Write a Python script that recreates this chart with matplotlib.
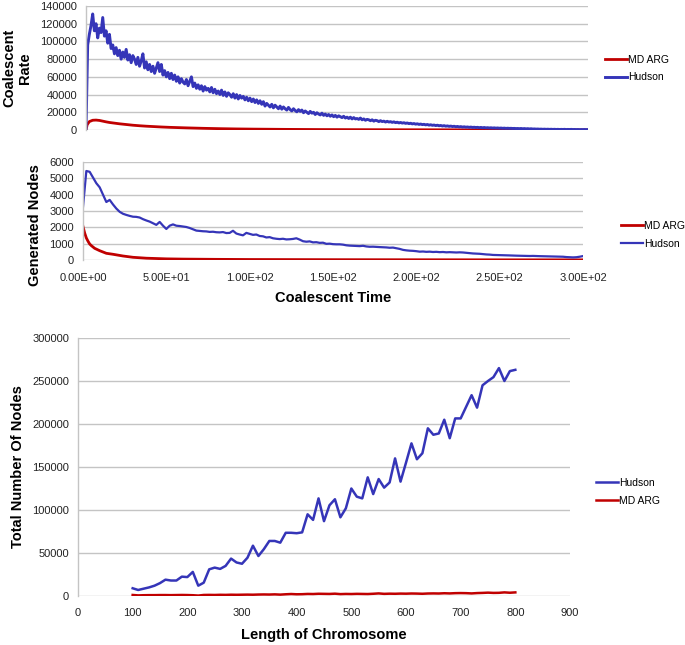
import numpy as np
import matplotlib
matplotlib.use("Agg")
import matplotlib.pyplot as plt
from matplotlib.ticker import FuncFormatter

plt.rcParams['font.family'] = ['Liberation Sans', 'DejaVu Sans']

# ---------------- data ----------------
# Panel 1: coalescent rate vs coalescent time (one value per time unit, t = 0..300)
rate_time_hudson = np.arange(0, 301, 1)
rate_hudson = [
    0, 96000, 108000, 118000, 131000, 112000, 120000, 104000, 115000, 110000,
    127000, 106000, 112000, 98000, 108000, 92000, 96000, 86000, 93000, 84000,
    90000, 80000, 88000, 82000, 91000, 79000, 85000, 76000, 84000, 80000,
    74000, 82000, 72000, 78000, 86000, 70000, 77000, 68000, 74000, 66000,
    72000, 64000, 70000, 76000, 66000, 74000, 62000, 67000, 60000, 65000,
    58000, 64000, 57000, 62000, 55000, 60000, 53000, 58000, 54000, 52000,
    57000, 50000, 55000, 60000, 49000, 53000, 47000, 51000, 46000, 50000,
    44000, 49000, 45000, 47000, 43000, 48000, 42000, 46000, 41000, 44000,
    40000, 45000, 39000, 43000, 38000, 42000, 40000, 37000, 41000, 36000,
    40000, 35000, 39000, 36000, 38000, 34000, 37000, 33000, 36000, 32000,
    35000, 31000, 34000, 30000, 33000, 29000, 32000, 27000, 30000, 28000,
    26000, 29000, 25000, 28000, 26000, 24000, 27000, 23500, 26000, 24000,
    22500, 25500, 23000, 21500, 24000, 22000, 20500, 23000, 21000, 22500,
    19500, 21500, 20000, 18500, 21000, 19000, 20000, 17500, 19500, 18000,
    17000, 19000, 16500, 18000, 16000, 17500, 15500, 17000, 15000, 16500,
    14500, 16000, 15000, 14000, 15500, 13500, 14500, 13000, 14500, 12500,
    14000, 12500, 13000, 12000, 13500, 11500, 12500, 11000, 12000, 11500,
    10500, 11500, 10000, 11000, 10500, 9500, 10500, 9500, 10000, 9000,
    9800, 9000, 9400, 8600, 9200, 8300, 8800, 8000, 8500, 7800,
    8200, 7500, 7900, 7200, 7600, 6900, 7300, 6600, 7000, 6300,
    6700, 6100, 6400, 5800, 6200, 5500, 5900, 5300, 5600, 5000,
    5400, 4800, 5100, 4500, 4900, 4300, 4600, 4100, 4400, 3900,
    4200, 3700, 4000, 3500, 3800, 3300, 3600, 3200, 3400, 3000,
    3300, 2900, 3100, 2800, 3000, 2600, 2900, 2500, 2800, 2400,
    2600, 2300, 2500, 2200, 2400, 2100, 2300, 2000, 2200, 1900,
    2100, 1800, 2000, 1800, 1900, 1700, 1800, 1600, 1700, 1500,
    1700, 1400, 1600, 1300, 1500, 1200, 1400, 1100, 1200, 1000,
    1100, 900, 1000, 800, 950, 750, 900, 700, 850, 650,
    800, 600, 750, 550, 700, 600, 750, 500, 650, 550,
    700, 500, 600, 450, 550, 400, 500, 450, 550, 400,
    500,
]
rate_time_mdarg = [0, 0.7, 2, 4, 6, 8, 10, 12, 14, 16, 20, 24, 28, 32, 36, 40, 45,
                   50, 60, 70, 80, 90, 100, 120, 140, 160, 180, 200, 230, 260, 300]
rate_mdarg = [0, 6000, 9500, 11000, 11200, 10800, 10000, 9200, 8500, 8000, 7000,
              6200, 5400, 4800, 4300, 3900, 3400, 3000, 2400, 1900, 1500, 1200,
              1000, 700, 500, 400, 300, 250, 200, 150, 100]

# Panel 2: generated nodes vs coalescent time
nodes_time_hudson = np.arange(0, 301, 2)
nodes_hudson = [
    3250, 5450, 5400, 5050, 4700, 4450, 4000, 3550, 3680, 3400,
    3150, 2950, 2830, 2760, 2700, 2650, 2640, 2600, 2500, 2420,
    2350, 2250, 2150, 2330, 2100, 1900, 2100, 2180, 2100, 2080,
    2050, 2020, 1960, 1880, 1800, 1780, 1760, 1750, 1720, 1730,
    1700, 1690, 1710, 1650, 1660, 1790, 1620, 1560, 1510, 1660,
    1600, 1540, 1560, 1470, 1450, 1380, 1400, 1330, 1300, 1280,
    1300, 1260, 1270, 1290, 1330, 1250, 1150, 1120, 1140, 1080,
    1090, 1050, 1060, 990, 1000, 970, 960, 960, 940, 900,
    880, 870, 860, 850, 870, 830, 810, 815, 800, 790,
    780, 770, 750, 760, 720, 680, 620, 590, 570, 560,
    540, 510, 520, 500, 510, 490, 500, 480, 490, 470,
    480, 470, 460, 470, 460, 440, 420, 400, 390, 380,
    360, 340, 330, 310, 305, 300, 290, 285, 280, 270,
    265, 260, 255, 250, 245, 250, 240, 235, 230, 225,
    220, 210, 205, 200, 200, 180, 170, 160, 170, 200,
    240,
]
nodes_time_mdarg = [0, 1, 2, 3, 4, 5, 7, 10, 14, 18, 24, 30, 38, 50, 60, 80, 100,
                    150, 200, 250, 300]
nodes_mdarg = [2050, 1650, 1350, 1150, 980, 880, 715, 570, 410, 350, 245, 165,
               110, 70, 55, 40, 30, 20, 15, 10, 10]

# Panel 3: total number of nodes vs length of chromosome
chrom_length = np.arange(100, 801, 10)
total_hudson = [
    9000, 7000, 8500, 10000, 12000, 15000, 19000, 18000, 18000, 22500,
    22000, 28000, 12000, 15500, 31000, 33000, 31500, 35000, 43500, 39000,
    37500, 44500, 58500, 46500, 54500, 64000, 64000, 62000, 73500, 73500,
    73000, 74000, 95000, 88500, 113500, 87000, 105500, 112500, 91500, 102000,
    125000, 115500, 113500, 138000, 118500, 136000, 126000, 132000, 160000, 133000,
    155000, 177500, 159000, 166000, 195000, 187500, 189000, 205000, 183500, 206500,
    206500, 220000, 233500, 219000, 245000, 250000, 254500, 265000, 250000, 261500,
    263000,
]
total_mdarg = [
    1200, 700, 900, 1000, 1000, 1100, 1100, 1000, 1100, 1200,
    1100, 900, 500, 1200, 1300, 1200, 1400, 1300, 1500, 1400,
    1500, 1600, 1500, 1700, 1800, 1700, 1900, 1600, 2000, 2300,
    2000, 2100, 2400, 2300, 2600, 2500, 2400, 2700, 2200, 2400,
    2300, 2500, 2400, 2300, 2600, 3000, 2500, 2700, 2600, 2800,
    2700, 2900, 2800, 2600, 2900, 3000, 2900, 3200, 3000, 3300,
    3400, 3300, 3000, 3400, 3600, 3900, 3600, 3700, 4200, 3800,
    4200,
]

# ---------------- style ----------------
BLUE = '#3535B8'
RED = '#C00000'
GRID = '#C4C4C4'
TICKC = '#222222'
TICK_FS = 8
LABEL_FS = 10.5
LEG_FS = 7.5

W, H = 685, 645
fig = plt.figure(figsize=(W / 100, H / 100), dpi=100)


def ax_at(x0, y0, x1, y1):
    return fig.add_axes([x0 / W, 1 - y1 / H, (x1 - x0) / W, (y1 - y0) / H])


def style(ax):
    for s in ('top', 'right', 'bottom'):
        ax.spines[s].set_visible(False)
    ax.spines['left'].set_color(GRID)
    ax.spines['left'].set_linewidth(1.0)
    ax.grid(axis='y', color=GRID, linewidth=1.0)
    ax.set_axisbelow(True)
    ax.tick_params(length=0, labelsize=TICK_FS, colors=TICKC)
    ax.tick_params(axis='y', pad=6.5)
    ax.tick_params(axis='x', pad=9.0)


def legend(ax, handles, labels, x, y):
    ax.legend(handles, labels, loc='center left',
              bbox_to_anchor=(x / W, 1 - y / H), bbox_transform=fig.transFigure,
              frameon=False, fontsize=LEG_FS, handlelength=2.1,
              handletextpad=0.15, labelspacing=0.75, borderpad=0,
              borderaxespad=0)


# Panel 1
ax1 = ax_at(86, 6, 588, 130)
style(ax1)
l_md1, = ax1.plot(rate_time_mdarg, rate_mdarg, color=RED, lw=2.0)
l_hu1, = ax1.plot(rate_time_hudson, rate_hudson, color=BLUE, lw=2.1)
ax1.set_xlim(0, 300)
ax1.set_ylim(0, 140000)
ax1.set_yticks(np.arange(0, 140001, 20000))
ax1.set_xticks([])
legend(ax1, [l_md1, l_hu1], ['MD ARG', 'Hudson'], 605, 68.5)
fig.text(9 / W, 1 - 68 / H, 'Coalescent', rotation=90, ha='center', va='center',
         fontsize=LABEL_FS, fontweight='bold')
fig.text(25 / W, 1 - 68 / H, 'Rate', rotation=90, ha='center', va='center',
         fontsize=LABEL_FS, fontweight='bold')

# Panel 2
ax2 = ax_at(83, 162, 583, 260)
style(ax2)
l_md2, = ax2.plot(nodes_time_mdarg, nodes_mdarg, color=RED, lw=2.0)
l_hu2, = ax2.plot(nodes_time_hudson, nodes_hudson, color=BLUE, lw=1.6)
ax2.set_xlim(0, 300)
ax2.set_ylim(0, 6000)
ax2.set_yticks(np.arange(0, 6001, 1000))
ax2.set_xticks(np.arange(0, 301, 50))
ax2.xaxis.set_major_formatter(FuncFormatter(lambda v, p: '{:.2E}'.format(v)))
legend(ax2, [l_md2, l_hu2], ['MD ARG', 'Hudson'], 621, 235)
fig.text(35 / W, 1 - 225 / H, 'Generated Nodes', rotation=90, ha='center',
         va='center', fontsize=LABEL_FS, fontweight='bold')
fig.text(333 / W, 1 - 298 / H, 'Coalescent Time', ha='center', va='center',
         fontsize=LABEL_FS, fontweight='bold')

# Panel 3
ax3 = ax_at(78, 338, 570, 596)
style(ax3)
l_hu3, = ax3.plot(chrom_length, total_hudson, color=BLUE, lw=1.8)
l_md3, = ax3.plot(chrom_length, total_mdarg, color=RED, lw=1.8)
ax3.set_xlim(0, 900)
ax3.set_ylim(0, 300000)
ax3.set_yticks(np.arange(0, 300001, 50000))
ax3.set_xticks(np.arange(0, 901, 100))
legend(ax3, [l_hu3, l_md3], ['Hudson', 'MD ARG'], 596, 492)
fig.text(18 / W, 1 - 467 / H, 'Total Number Of Nodes', rotation=90, ha='center',
         va='center', fontsize=LABEL_FS, fontweight='bold')
fig.text(324 / W, 1 - 635 / H, 'Length of Chromosome', ha='center', va='center',
         fontsize=LABEL_FS, fontweight='bold')

fig.savefig('out.png', dpi=100)
